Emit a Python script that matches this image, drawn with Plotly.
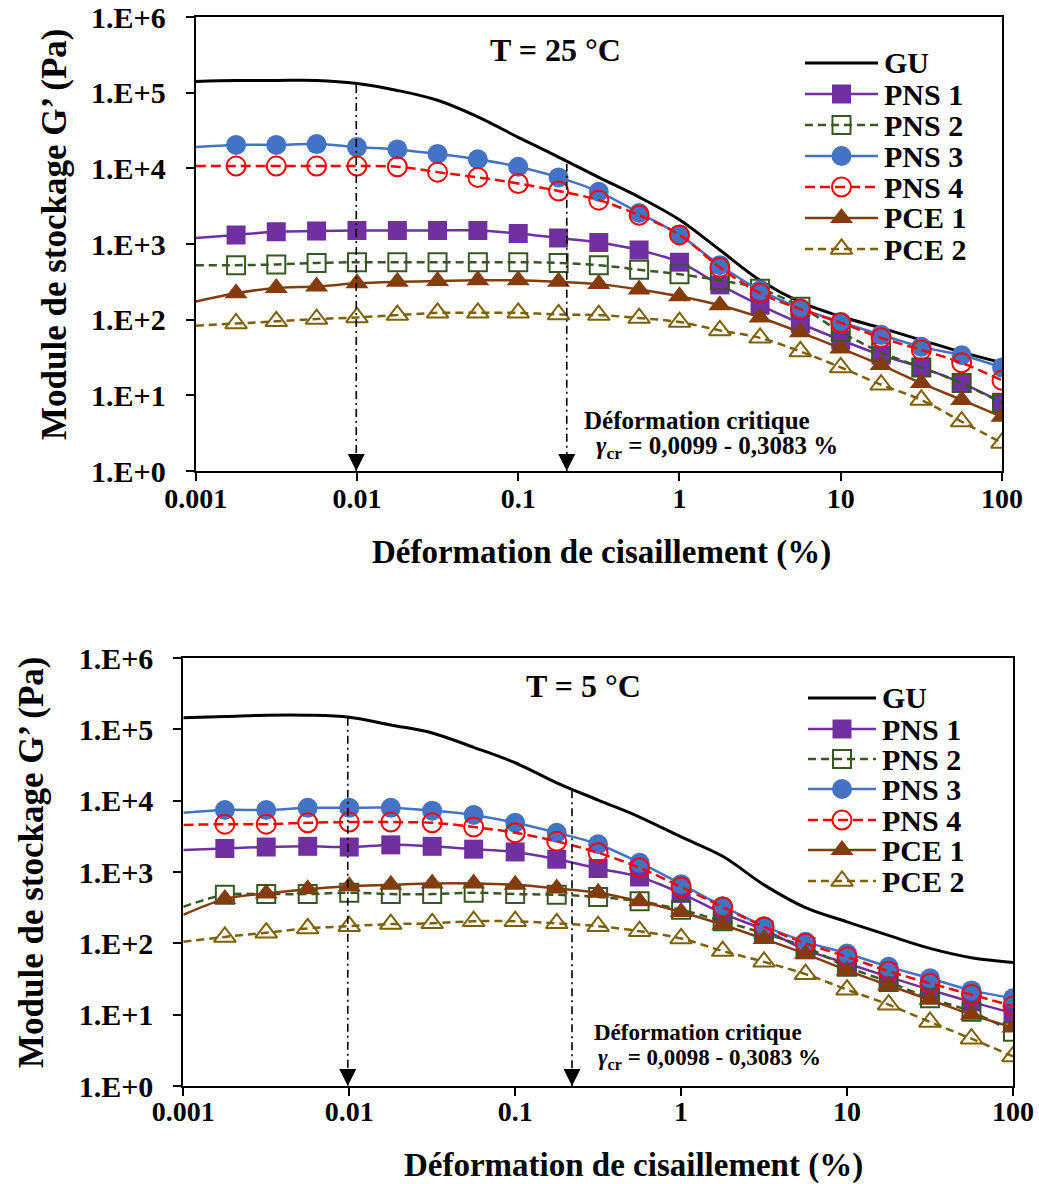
import math
import plotly.graph_objects as go

W, H = 1039, 1184
FONT = "Liberation Serif"

# ---------------- data ----------------
strain = [0.001, 0.00178, 0.00316, 0.00562, 0.01, 0.0178, 0.0316, 0.0562, 0.1, 0.178,
          0.316, 0.562, 1, 1.78, 3.16, 5.62, 10, 17.8, 31.6, 56.2, 100]

names = ["GU", "PNS 1", "PNS 2", "PNS 3", "PNS 4", "PCE 1", "PCE 2"]

# T = 25 °C
gu_25 = [141000, 145000, 145000, 145000, 132000, 107000, 79400, 47900, 25700, 14100,
         7590, 4170, 2090, 832, 331, 170, 110, 77.6, 53.7, 37.2, 26.9]
pns1_25 = [1200, 1320, 1450, 1480, 1510, 1510, 1510, 1510, 1380, 1200,
           1050, 832, 575, 288, 155, 89, 54, 34, 23.4, 14.5, 8.1]
pns2_25 = [525, 525, 537, 562, 575, 575, 575, 575, 575, 562,
           525, 457, 398, 331, 257, 148, 69, 37, 23.4, 14.5, 7.9]
pns3_25 = [19100, 20400, 20400, 20900, 19100, 17800, 15500, 13200, 10500, 7590,
           4900, 2570, 1320, 525, 245, 141, 93, 63, 43.7, 33.9, 23.4]
pns4_25 = [10700, 10700, 10700, 10700, 10700, 10500, 8910, 7590, 6310, 5010,
           3800, 2400, 1320, 490, 224, 138, 91, 57.5, 39.8, 26.9, 15.8]
pce1_25 = [174, 224, 263, 275, 302, 316, 324, 331, 331, 316,
           295, 251, 204, 155, 107, 68, 41.7, 25.1, 14.5, 8.7, 5.2]
pce2_25 = [83, 89, 95, 102, 107, 115, 123, 123, 123, 117,
           115, 105, 93, 72, 57.5, 38, 23.4, 13.8, 8.7, 4.5, 2.35]

# T = 5 °C
gu_5 = [145000, 151000, 158000, 158000, 148000, 115000, 89000, 56000, 34000, 17800,
        10200, 5900, 3100, 1660, 660, 316, 200, 129, 85, 63, 54]
pns1_5 = [2040, 2140, 2240, 2290, 2240, 2400, 2290, 2090, 1910, 1510,
          1120, 851, 501, 263, 155, 81, 52.5, 33.9, 22.4, 15.1, 10.5]
pns2_5 = [324, 479, 490, 490, 513, 490, 490, 513, 490, 479,
          447, 389, 295, 204, 138, 89, 46.8, 28.8, 17, 11, 5.75]
pns3_5 = [6760, 7410, 7410, 7940, 7940, 7940, 7240, 6310, 4900, 3550,
          2450, 1350, 676, 331, 174, 105, 72, 46.8, 32.4, 21.9, 17.0]
pns4_5 = [4570, 4680, 4680, 4900, 5010, 5010, 4900, 4270, 3550, 2690,
          1860, 1150, 617, 324, 170, 100, 64.6, 40.7, 27.5, 19.1, 13.2]
pce1_5 = [251, 417, 501, 575, 631, 661, 692, 692, 661, 589,
          513, 389, 275, 182, 115, 71, 41.7, 25.7, 16.2, 10, 6.6]
pce2_5 = [105, 123, 141, 162, 174, 186, 191, 204, 204, 191,
          174, 148, 117, 78, 55, 37, 22.4, 13.8, 7.9, 4.6, 2.6]

series_25 = [gu_25, pns1_25, pns2_25, pns3_25, pns4_25, pce1_25, pce2_25]
series_5 = [gu_5, pns1_5, pns2_5, pns3_5, pns4_5, pce1_5, pce2_5]

# critical strain guide lines (x, top value)
crit_25_x = [0.0099, 0.2]
crit_25_top = [126000, 11500]
crit_5_x = [0.0098, 0.22]
crit_5_top = [145000, 14000]

x_tickvals = [0.001, 0.01, 0.1, 1, 10, 100]
x_ticktext = ["0.001", "0.01", "0.1", "1", "10", "100"]
y_tickvals = [1, 10, 100, 1e3, 1e4, 1e5, 1e6]
y_ticktext = ["1.E+0", "1.E+1", "1.E+2", "1.E+3", "1.E+4", "1.E+5", "1.E+6"]

# ---------------- styles ----------------
STY = {
    "GU":    dict(color="#000000", dash="solid",   symbol=None,               width=3),
    "PNS 1": dict(color="#7030A0", dash="solid",   symbol="square",           width=2.5),
    "PNS 2": dict(color="#385723", dash="8px,5px", symbol="square-open",      width=2.5),
    "PNS 3": dict(color="#4472C4", dash="solid",   symbol="circle",           width=2.5),
    "PNS 4": dict(color="#FF0000", dash="10px,5px", symbol="circle-open",     width=2.5),
    "PCE 1": dict(color="#843C0C", dash="solid",   symbol="triangle-up",      width=2.5),
    "PCE 2": dict(color="#7F6000", dash="8px,5px", symbol="triangle-up-open", width=2.5),
}
MSIZE = {"square": 19, "square-open": 18, "circle": 20, "circle-open": 19,
         "triangle-up": 20, "triangle-up-open": 19}


def px_x(p):
    return p / W


def px_y(p):
    return 1 - p / H


fig = go.Figure()


def add_panel(series, xa, ya):
    n = len(strain)
    for name, vals in zip(names, series):
        s = STY[name]
        if s["symbol"] is None:
            fig.add_trace(go.Scatter(
                x=strain, y=vals, mode="lines", showlegend=False, name=name,
                line=dict(color=s["color"], width=s["width"], shape="spline", dash=s["dash"]),
                xaxis=xa, yaxis=ya))
        else:
            size = MSIZE[s["symbol"]]
            fig.add_trace(go.Scatter(
                x=strain, y=vals, mode="lines+markers", showlegend=False, name=name,
                line=dict(color=s["color"], width=s["width"], shape="spline", dash=s["dash"]),
                marker=dict(symbol=s["symbol"], color=s["color"],
                            size=[0] + [size] * (n - 1),
                            opacity=[0] + [1] * (n - 1),
                            line=dict(color=s["color"], width=2 if "open" in s["symbol"] else 0)),
                xaxis=xa, yaxis=ya))


add_panel(series_25, "x", "y")
add_panel(series_5, "x2", "y2")

# critical strain dash-dot lines
for xs, tops, xa, ya in [(crit_25_x, crit_25_top, "x", "y"), (crit_5_x, crit_5_top, "x2", "y2")]:
    for xc, yt in zip(xs, tops):
        fig.add_trace(go.Scatter(
            x=[xc, xc], y=[yt, 1], mode="lines", showlegend=False, hoverinfo="skip",
            line=dict(color="black", width=1.6, dash="8px,4px,2px,4px"),
            xaxis=xa, yaxis=ya))

# ---------------- custom legends (pixel space overlay) ----------------
leg_top = dict(x0=805, x1=878, tx=882, rows=[63, 94, 125, 156, 187, 218, 249])
leg_bot = dict(x0=808, x1=876, tx=880, rows=[698, 729, 759, 789, 820, 850, 881])

annotations = []
for L in (leg_top, leg_bot):
    for name, row in zip(names, L["rows"]):
        s = STY[name]
        xm = (L["x0"] + L["x1"]) / 2
        if s["symbol"] is None:
            fig.add_trace(go.Scatter(
                x=[L["x0"], L["x1"]], y=[row, row], mode="lines", showlegend=False,
                hoverinfo="skip", line=dict(color=s["color"], width=s["width"], dash=s["dash"]),
                xaxis="x3", yaxis="y3"))
        else:
            size = MSIZE[s["symbol"]]
            fig.add_trace(go.Scatter(
                x=[L["x0"], xm, L["x1"]], y=[row, row, row], mode="lines+markers",
                showlegend=False, hoverinfo="skip",
                line=dict(color=s["color"], width=s["width"], dash=s["dash"]),
                marker=dict(symbol=s["symbol"], color=s["color"], size=[0, size, 0],
                            opacity=[0, 1, 0],
                            line=dict(color=s["color"], width=2 if "open" in s["symbol"] else 0)),
                xaxis="x3", yaxis="y3"))
        annotations.append(dict(
            x=px_x(L["tx"]), y=px_y(row), xref="paper", yref="paper", text=name,
            showarrow=False, xanchor="left", yanchor="middle",
            font=dict(family=FONT, size=30, color="black", weight="bold")))


def txt(x, y, text, size, xanchor="center", angle=0):
    annotations.append(dict(
        x=px_x(x), y=px_y(y), xref="paper", yref="paper", text=text, showarrow=False,
        xanchor=xanchor, yanchor="middle", textangle=angle,
        font=dict(family=FONT, size=size, color="black", weight="bold")))


txt(555, 50, "T = 25 °C", 32)
txt(583, 686, "T = 5 °C", 32)
txt(601, 553, "Déformation de cisaillement (%)", 33)
txt(633, 1165, "Déformation de cisaillement (%)", 33)
txt(55, 234, "Module de stockage G’ (Pa)", 35, angle=-90)
txt(31, 862, "Module de stockage G’ (Pa)", 35, angle=-90)
txt(582, 420, "Déformation critique", 25, xanchor="left")
txt(594, 447, "<i>γ</i><sub>cr</sub> = 0,0099 - 0,3083 %", 25, xanchor="left")
txt(592, 1032, "Déformation critique", 23, xanchor="left")
txt(596, 1059, "<i>γ</i><sub>cr</sub> = 0,0098 - 0,3083 %", 23, xanchor="left")

# arrowheads at bottom of the guide lines
for xs, xr, yr in [(crit_25_x, "x", "y"), (crit_5_x, "x2", "y2")]:
    for xc in xs:
        annotations.append(dict(
            x=math.log10(xc), y=0, xref=xr, yref=yr, text="", showarrow=True,
            ax=0, ay=-17, arrowhead=2, arrowsize=1.7, arrowwidth=2, arrowcolor="black",
            standoff=0))


def log_axis(domain, rng, tickvals, ticktext, anchor, standoff, fsize):
    return dict(
        type="log", domain=domain, range=rng, anchor=anchor,
        showgrid=False, zeroline=False, showline=True, linecolor="black", linewidth=2,
        mirror=True, ticks="outside", ticklen=8, tickwidth=2, tickcolor="black",
        tickvals=tickvals, ticktext=ticktext, ticklabelstandoff=standoff,
        tickfont=dict(family=FONT, size=fsize, color="black", weight="bold"),
        automargin=False, fixedrange=True)


fig.update_layout(
    width=W, height=H,
    margin=dict(l=0, r=0, t=0, b=0, pad=0, autoexpand=False),
    paper_bgcolor="white", plot_bgcolor="rgba(0,0,0,0)",
    showlegend=False,
    xaxis=log_axis([px_x(195.7), px_x(1002)], [-3, 2], x_tickvals, x_ticktext, "y", -7, 28),
    yaxis=log_axis([px_y(471), px_y(17)], [0, 6], y_tickvals, y_ticktext, "x", 14, 30),
    xaxis2=log_axis([px_x(183.3), px_x(1013)], [-3, 2], x_tickvals, x_ticktext, "y2", -9, 28),
    yaxis2=log_axis([px_y(1086), px_y(658)], [0, 6], y_tickvals, y_ticktext, "x2", 14, 30),
    xaxis3=dict(domain=[0, 1], range=[0, W], visible=False, anchor="y3", fixedrange=True),
    yaxis3=dict(domain=[0, 1], range=[H, 0], visible=False, anchor="x3", fixedrange=True),
    annotations=annotations,
)

fig.write_html("out.html")
